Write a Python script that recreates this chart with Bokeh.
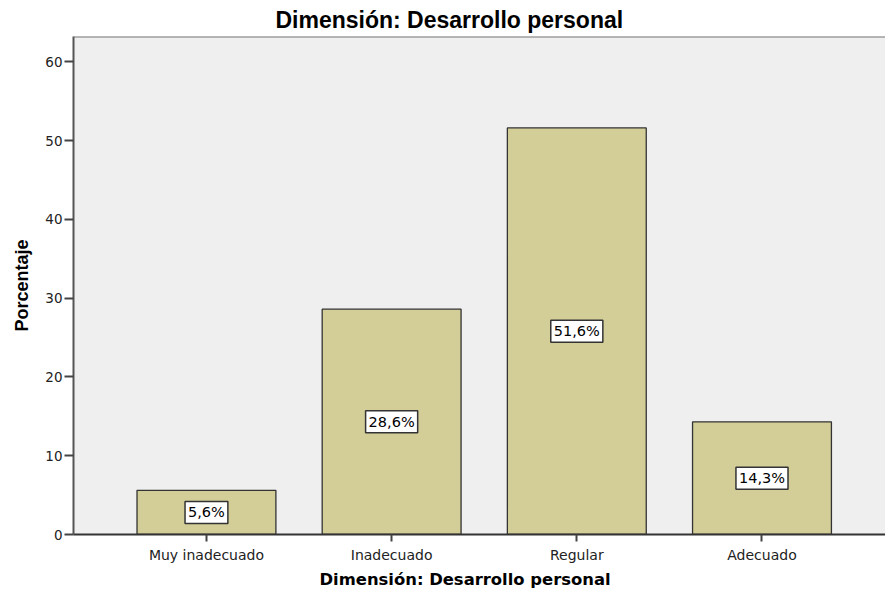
from bokeh.plotting import figure
from bokeh.models import ColumnDataSource, FixedTicker, Span, Title, Range1d
from bokeh.core.properties import value
from bokeh.embed import file_html
from bokeh.resources import INLINE

categories = ["Muy inadecuado", "Inadecuado", "Regular", "Adecuado"]
percentages = [5.6, 28.6, 51.6, 14.3]
bar_labels = ["5,6%", "28,6%", "51,6%", "14,3%"]
y_ticks = [0, 10, 20, 30, 40, 50, 60]
chart_title = "Dimensión: Desarrollo personal"
x_title = "Dimensión: Desarrollo personal"
y_title = "Porcentaje"

x = list(range(1, len(categories) + 1))
src = ColumnDataSource(dict(x=x, top=percentages,
                            mid=[v / 2 for v in percentages], lab=bar_labels))

p = figure(width=885, height=590, output_backend="svg", toolbar_location=None,
           x_range=Range1d(0.282, 4.667), y_range=Range1d(0, 63.2),
           min_border_left=73, min_border_right=0, min_border_top=36,
           min_border_bottom=56)

p.background_fill_color = "#EFEFEF"
p.border_fill_color = "white"
p.outline_line_color = None
p.xgrid.visible = False
p.ygrid.visible = False

p.vbar(x="x", top="top", bottom=0, width=0.75, source=src,
       fill_color="#D3CE98", line_color="#333333", line_width=1.3)

p.text(x="x", y="mid", text="lab", source=src,
       text_align="center", text_baseline="middle",
       text_font=value("DejaVu Sans"), text_font_size="14.5px",
       text_color="black",
       background_fill_color="white", border_line_color="#333333",
       border_line_width=1.5, padding=3)

p.add_layout(Span(location=63.2, dimension="width", line_color="#777777", line_width=2))

# y axis
p.yaxis.ticker = FixedTicker(ticks=y_ticks)
p.yaxis.minor_tick_line_color = None
p.yaxis.major_tick_in = 0
p.yaxis.major_tick_out = 9
p.yaxis.major_tick_line_width = 2
p.yaxis.major_tick_line_color = "#444444"
p.yaxis.axis_line_color = "#555555"
p.yaxis.axis_line_width = 2
p.yaxis.major_label_standoff = 2
p.yaxis.major_label_text_font = "DejaVu Sans"
p.yaxis.major_label_text_font_size = "13.5px"
p.yaxis.major_label_text_color = "#222222"
p.yaxis.axis_label = y_title
p.yaxis.axis_label_text_font = "Liberation Sans"
p.yaxis.axis_label_text_font_size = "18px"
p.yaxis.axis_label_text_font_style = "bold"
p.yaxis.axis_label_text_color = "black"
p.yaxis.axis_label_standoff = 10

# x axis
p.xaxis.ticker = FixedTicker(ticks=x)
p.xaxis.major_label_overrides = {i: c for i, c in zip(x, categories)}
p.xaxis.minor_tick_line_color = None
p.xaxis.major_tick_in = 0
p.xaxis.major_tick_out = 7
p.xaxis.major_tick_line_width = 2
p.xaxis.major_tick_line_color = "#444444"
p.xaxis.axis_line_color = "#333333"
p.xaxis.axis_line_width = 2
p.xaxis.major_label_standoff = 5
p.xaxis.major_label_text_font = "DejaVu Sans"
p.xaxis.major_label_text_font_size = "14px"
p.xaxis.major_label_text_color = "#222222"

p.title.text = chart_title
p.title.align = "left"
p.title.offset = 202
p.title.text_font = "Liberation Sans"
p.title.text_font_size = "23px"
p.title.text_font_style = "bold"
p.title.text_color = "black"
p.title.standoff = 8

p.add_layout(Title(text=x_title, align="left", offset=246,
                   text_font="DejaVu Sans", text_font_size="16.4px",
                   text_font_style="bold", text_color="black", standoff=4), "below")

open("out.html", "w").write(file_html(p, INLINE))
